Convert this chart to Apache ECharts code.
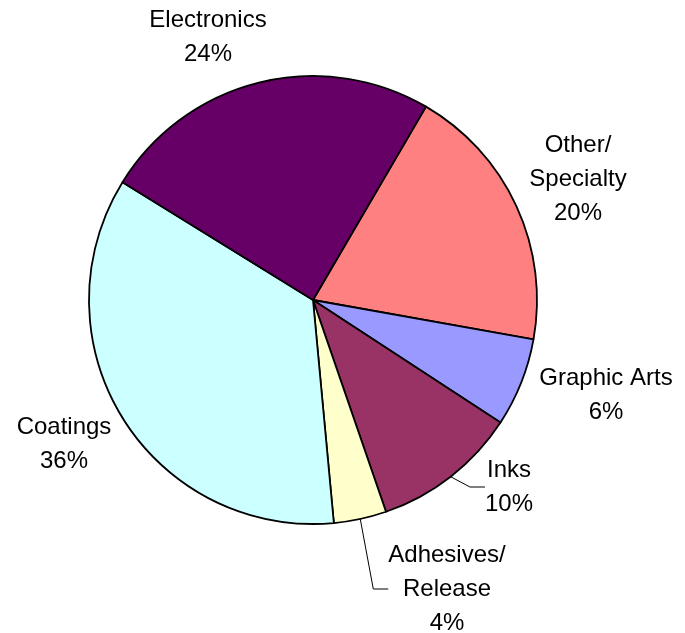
<!DOCTYPE html>
<html>
<head>
<meta charset="utf-8">
<script src="https://cdn.jsdelivr.net/npm/echarts@6/dist/echarts.min.js"></script>
<style>
html,body{margin:0;padding:0;background:#fff;}
#main{width:685px;height:633px;}
</style>
</head>
<body>
<div id="main"></div>
<script>
// Data (clockwise from the Electronics/Other boundary)
var categories = ['Other/\nSpecialty', 'Graphic Arts', 'Inks', 'Adhesives/\nRelease', 'Coatings', 'Electronics'];
var values = [19.4, 6.4, 10.5, 3.8, 35.3, 24.6];      // slice sizes
var pctLabels = ['20%', '6%', '10%', '4%', '36%', '24%']; // percentages as printed
var colors = ['#FF8080', '#9999FF', '#993366', '#FFFFCC', '#CCFFFF', '#660066'];
var showLeader = [false, false, true, true, false, false];
// label anchor points (text block centres)
var labelPos = [[578, 179], [606, 395], [509, 487], [447, 589], [64, 444], [208, 37]];

var chart = echarts.init(document.getElementById('main'), null, {renderer: 'canvas'});
var data = categories.map(function (c, i) {
  return {
    name: c,
    value: values[i],
    itemStyle: {color: colors[i]},
    labelLine: {show: showLeader[i]}
  };
});
chart.setOption({
  animation: false,
  backgroundColor: '#ffffff',
  series: [{
    type: 'pie',
    center: [313, 300],
    radius: [0, 224],
    startAngle: 59.7,
    clockwise: true,
    avoidLabelOverlap: false,
    data: data,
    itemStyle: {borderColor: '#000', borderWidth: 1.8},
    label: {
      show: true,
      position: 'outside',
      formatter: function (p) { return p.name + '\n' + pctLabels[p.dataIndex]; },
      fontFamily: '"Liberation Sans", Arial, sans-serif',
      fontSize: 24,
      lineHeight: 34,
      color: '#000',
      align: 'center'
    },
    labelLine: {
      show: false,
      length: 10,
      length2: 15,
      lineStyle: {color: '#000', width: 1}
    },
    labelLayout: function (p) {
      var pos = labelPos[p.dataIndex];
      return {x: pos[0], y: pos[1], align: 'center', verticalAlign: 'middle'};
    },
    emphasis: {disabled: true}
  }]
});
</script>
</body>
</html>
